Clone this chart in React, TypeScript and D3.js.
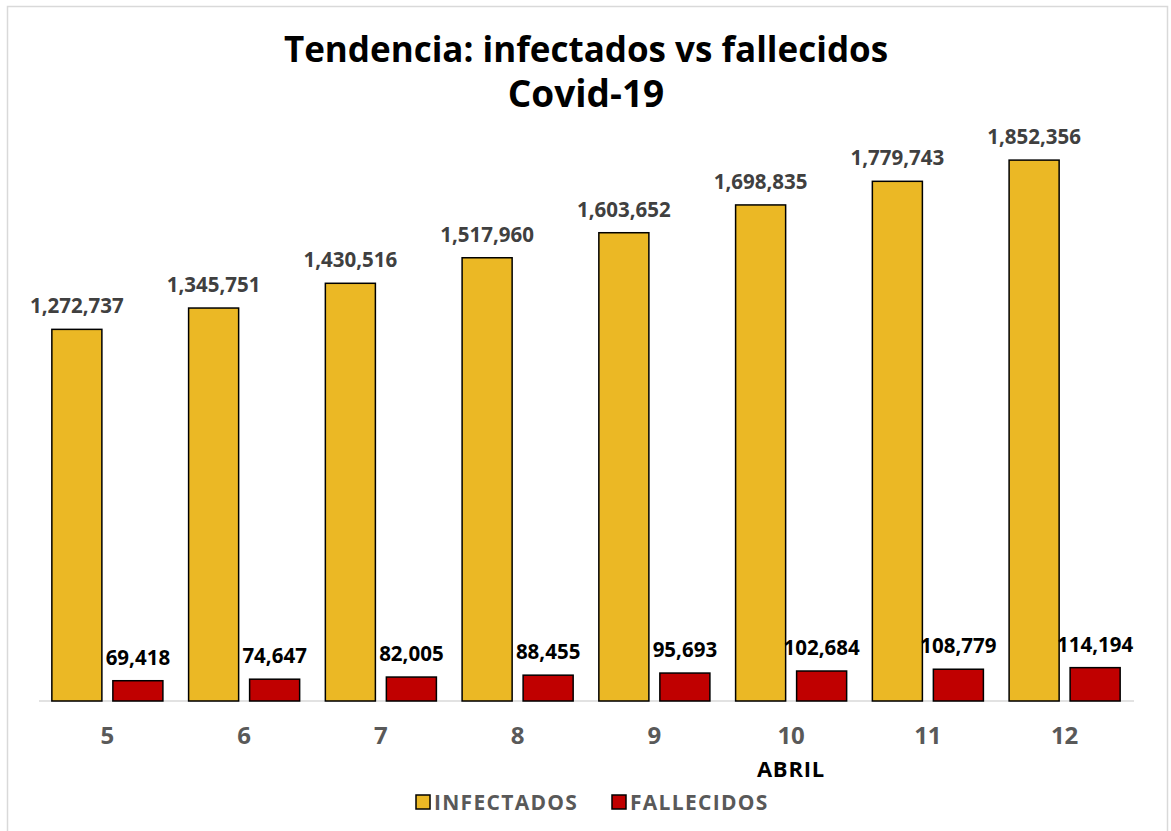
import React, { useEffect, useRef } from 'react';
import * as d3 from 'd3';

const days = ['5', '6', '7', '8', '9', '10', '11', '12'];
const infectados = [1272737, 1345751, 1430516, 1517960, 1603652, 1698835, 1779743, 1852356];
const fallecidos = [69418, 74647, 82005, 88455, 95693, 102684, 108779, 114194];
const seriesNames = ['INFECTADOS', 'FALLECIDOS'];
const seriesColors = ['#EBB825', '#C00000'];

const W = 1171;
const H = 831;
const FONT = '"Open Sans", "Noto Sans", sans-serif';

const App = () => {
    const svgRef = useRef<SVGSVGElement>(null);

    useEffect(() => {
        const svg = d3.select(svgRef.current);
        svg.selectAll('*').remove();

        // chart frame
        svg.append('rect')
            .attr('x', 7.5).attr('y', 6.5)
            .attr('width', 1160).attr('height', 830)
            .attr('fill', '#fff')
            .attr('stroke', '#d9d9d9')
            .attr('stroke-width', 1.5);

        const rows = days.map((d, i) => ({ day: d, values: [infectados[i], fallecidos[i]] }));

        const x0 = d3.scaleBand().domain(days).range([39, 1133]).paddingInner(0.188).paddingOuter(0.094);
        const x1 = d3.scaleBand().domain(['0', '1']).range([0, x0.bandwidth()]).paddingInner(0.18);
        const y = d3.scaleLinear().domain([0, 2000000]).range([701, 117]);
        const fmt = d3.format(',');

        // title
        const title = svg.append('text')
            .attr('text-anchor', 'middle')
            .attr('font-family', FONT)
            .attr('font-weight', 700)
            .attr('font-size', 35)
            .attr('fill', '#000');
        title.append('tspan').attr('x', 586).attr('y', 62).text('Tendencia: infectados vs fallecidos');
        title.append('tspan').attr('x', 586).attr('y', 107).attr('font-size', 37).text('Covid-19');

        // axis baseline
        svg.append('line')
            .attr('x1', 39).attr('x2', 1134)
            .attr('y1', y(0)).attr('y2', y(0))
            .attr('stroke', '#d9d9d9')
            .attr('stroke-width', 1.5);

        const groups = svg.selectAll('g.day')
            .data(rows)
            .enter()
            .append('g')
            .attr('class', 'day')
            .attr('transform', (d) => `translate(${x0(d.day)},0)`);

        groups.selectAll('rect')
            .data((d) => d.values.map((v, k) => ({ v, k })))
            .enter()
            .append('rect')
            .attr('x', (d) => x1(String(d.k))!)
            .attr('y', (d) => y(d.v))
            .attr('width', x1.bandwidth())
            .attr('height', (d) => y(0) - y(d.v))
            .attr('fill', (d) => seriesColors[d.k])
            .attr('stroke', '#000')
            .attr('stroke-width', 1.5);

        // value labels
        groups.selectAll('text.val')
            .data((d) => d.values.map((v, k) => ({ v, k })))
            .enter()
            .append('text')
            .attr('class', 'val')
            .attr('x', (d) => x1(String(d.k))! + x1.bandwidth() / 2)
            .attr('y', (d) => y(d.v) - 16)
            .attr('text-anchor', 'middle')
            .attr('font-family', FONT)
            .attr('font-weight', 700)
            .attr('font-size', 20.5)
            .attr('fill', (d) => (d.k === 0 ? '#404040' : '#000'))
            .text((d) => fmt(d.v));

        // x tick labels
        svg.append('g')
            .selectAll('text')
            .data(days)
            .enter()
            .append('text')
            .attr('x', (d) => x0(d)! + x0.bandwidth() / 2)
            .attr('y', 744)
            .attr('text-anchor', 'middle')
            .attr('font-family', FONT)
            .attr('font-weight', 700)
            .attr('font-size', 24)
            .attr('fill', '#595959')
            .text((d) => d);

        // axis title
        svg.append('text')
            .attr('x', 791)
            .attr('y', 777)
            .attr('text-anchor', 'middle')
            .attr('font-family', FONT)
            .attr('font-weight', 700)
            .attr('font-size', 22)
            .attr('letter-spacing', 0.8)
            .attr('fill', '#000')
            .text('ABRIL');

        // legend
        const legendX = [416, 612];
        const legend = svg.append('g');
        seriesNames.forEach((name, i) => {
            legend.append('rect')
                .attr('x', legendX[i]).attr('y', 795)
                .attr('width', 14).attr('height', 14)
                .attr('fill', seriesColors[i])
                .attr('stroke', '#000')
                .attr('stroke-width', 1.5);
            legend.append('text')
                .attr('x', legendX[i] + 18)
                .attr('y', 810)
                .attr('font-family', FONT)
                .attr('font-weight', 700)
                .attr('font-size', 21)
                .attr('letter-spacing', 1.3)
                .attr('fill', '#595959')
                .text(name);
        });
    }, []);

    return (
        <svg
            ref={svgRef}
            width={W}
            height={H}
            style={{ position: 'absolute', left: 0, top: 0, display: 'block' }}
        />
    );
};

export default App;
